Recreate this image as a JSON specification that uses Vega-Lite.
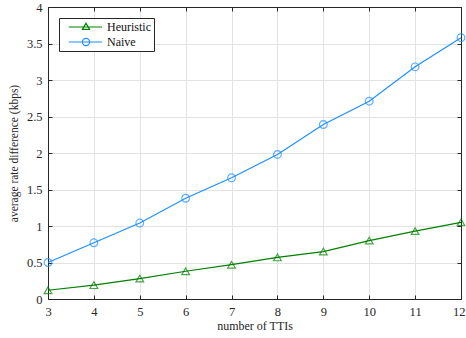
{
  "$schema": "https://vega.github.io/schema/vega-lite/v6.json",
  "width": 413,
  "height": 292,
  "autosize": {"type": "none"},
  "padding": {"left": 48, "top": 7, "right": 5, "bottom": 39},
  "background": "white",
  "config": {
    "view": {"stroke": "#262626", "strokeWidth": 1},
    "font": "Liberation Serif",
    "axis": {
      "labelFont": "Liberation Serif",
      "titleFont": "Liberation Serif",
      "labelFontSize": 12.5,
      "titleFontSize": 12,
      "labelColor": "#262626",
      "titleColor": "#262626",
      "titleFontWeight": "normal",
      "domainColor": "#262626",
      "tickColor": "#262626",
      "gridColor": "#e3e3e3",
      "gridWidth": 1
    }
  },
  "data": {
    "values": [
      {"t": 3, "v": 0.12, "s": "Heuristic"},
      {"t": 4, "v": 0.19, "s": "Heuristic"},
      {"t": 5, "v": 0.28, "s": "Heuristic"},
      {"t": 6, "v": 0.38, "s": "Heuristic"},
      {"t": 7, "v": 0.47, "s": "Heuristic"},
      {"t": 8, "v": 0.57, "s": "Heuristic"},
      {"t": 9, "v": 0.65, "s": "Heuristic"},
      {"t": 10, "v": 0.8, "s": "Heuristic"},
      {"t": 11, "v": 0.93, "s": "Heuristic"},
      {"t": 12, "v": 1.05, "s": "Heuristic"},
      {"t": 3, "v": 0.5, "s": "Naive"},
      {"t": 4, "v": 0.77, "s": "Naive"},
      {"t": 5, "v": 1.04, "s": "Naive"},
      {"t": 6, "v": 1.38, "s": "Naive"},
      {"t": 7, "v": 1.66, "s": "Naive"},
      {"t": 8, "v": 1.98, "s": "Naive"},
      {"t": 9, "v": 2.39, "s": "Naive"},
      {"t": 10, "v": 2.71, "s": "Naive"},
      {"t": 11, "v": 3.18, "s": "Naive"},
      {"t": 12, "v": 3.58, "s": "Naive"}
    ]
  },
  "resolve": {"axis": {"x": "independent", "y": "independent"}},
  "layer": [
    {
      "mark": {"type": "line", "strokeWidth": 1.2},
      "encoding": {
        "x": {"field": "t", "type": "quantitative", "scale": {"domain": [3, 12], "nice": false},
          "axis": {"orient": "bottom", "title": "number of TTIs", "values": [3,4,5,6,7,8,9,10,11,12], "format": "~g", "tickSize": -4, "labelPadding": 10, "titlePadding": 3, "labelFlush": false,
            "labelAlign": {"condition": {"test": "datum.value == 12", "value": "right"}, "value": "center"},
            "labelOffset": {"condition": {"test": "datum.value == 12", "value": 4}, "value": 0}}},
        "y": {"field": "v", "type": "quantitative", "scale": {"domain": [0, 4], "nice": false},
          "axis": {"orient": "left", "title": "average rate difference (kbps)", "titleFontSize": 11.5, "values": [0,0.5,1,1.5,2,2.5,3,3.5,4], "format": "~g", "tickSize": -4, "labelPadding": 10, "titlePadding": 7, "labelFlush": false}},
        "color": {"field": "s", "type": "nominal",
          "scale": {"domain": ["Heuristic", "Naive"], "range": ["#008000", "#1e8fff"]},
          "legend": {
            "title": null,
            "orient": "none",
            "legendX": 11,
            "legendY": 11,
            "padding": 3,
            "strokeColor": "#262626",
            "fillColor": "white",
            "labelFont": "Liberation Serif",
            "labelFontSize": 12,
            "labelColor": "#111111",
            "symbolSize": 64,
            "symbolStrokeWidth": 1.2,
            "symbolFillColor": "transparent",
            "labelOffset": 33,
            "rowPadding": 3,
            "encode": {
              "symbols": {
                "update": {
                  "shape": {"signal": "datum.value === 'Heuristic' ? 'M0.2,0H8.5M4.5,-0.95L5.4,0.6L3.6,0.6Z' : 'M0.2,0H8.5M5.4,0A0.9,0.9,0,1,1,3.6,0A0.9,0.9,0,1,1,5.4,0Z'"}
                }
              }
            }
          }}
      }
    },
    {
      "transform": [{"filter": "datum.s === 'Heuristic'"}],
      "mark": {"type": "point", "filled": false, "strokeWidth": 1.2, "size": 60, "shape": "triangle-up"},
      "encoding": {
        "x": {"field": "t", "type": "quantitative", "axis": {"orient": "top", "labels": false, "title": null, "grid": false, "values": [3,4,5,6,7,8,9,10,11,12], "tickSize": -4}},
        "y": {"field": "v", "type": "quantitative", "axis": {"orient": "right", "labels": false, "title": null, "grid": false, "values": [0,0.5,1,1.5,2,2.5,3,3.5,4], "tickSize": -4}},
        "color": {"field": "s", "type": "nominal", "legend": null}
      }
    },
    {
      "transform": [{"filter": "datum.s === 'Naive'"}],
      "mark": {"type": "point", "filled": false, "strokeWidth": 1.2, "size": 60, "shape": "circle"},
      "encoding": {
        "x": {"field": "t", "type": "quantitative", "axis": null},
        "y": {"field": "v", "type": "quantitative", "axis": null},
        "color": {"field": "s", "type": "nominal", "legend": null}
      }
    }
  ]
}
